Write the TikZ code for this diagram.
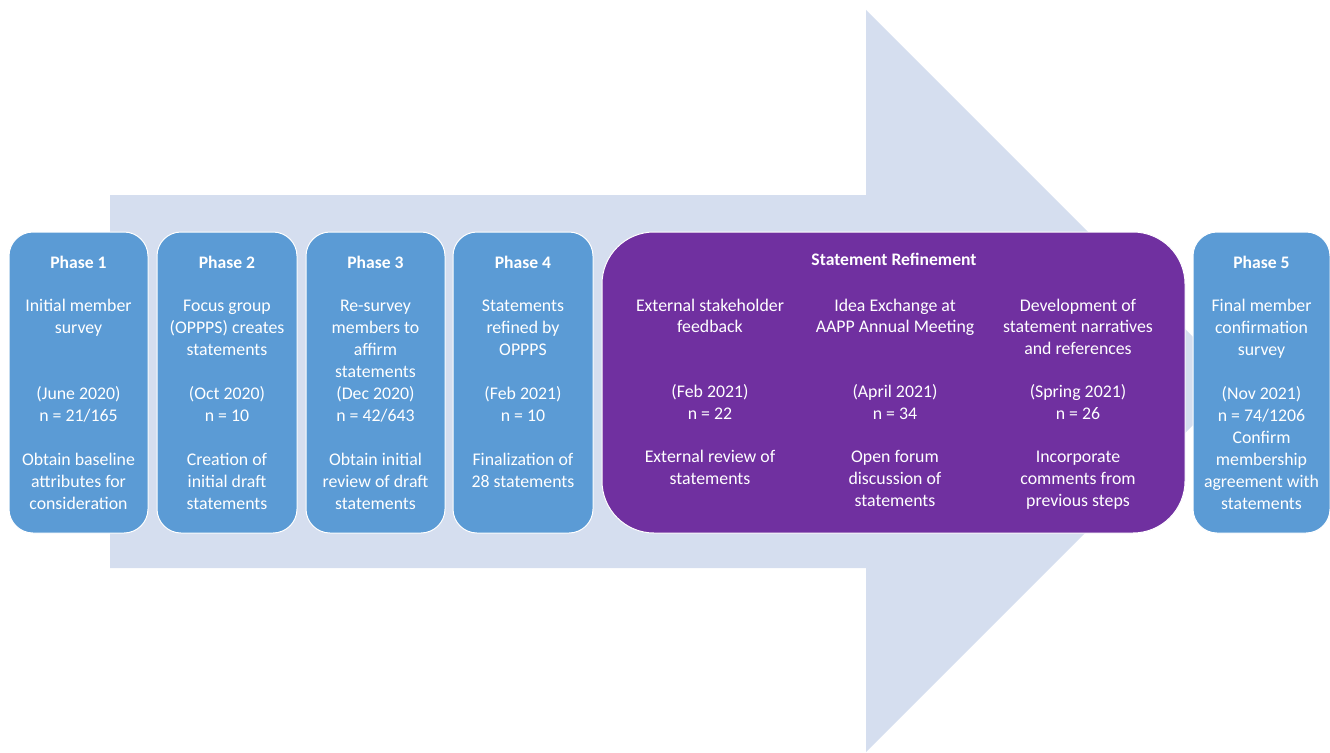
\documentclass[tikz,border=0pt]{standalone}
\usepackage{fontspec}
\setmainfont{Carlito}
\definecolor{arrowbg}{HTML}{D5DEEF}
\definecolor{phaseblue}{HTML}{5B9BD5}
\definecolor{refpurple}{HTML}{7030A0}
\tikzset{
  phasebox/.style={draw=white, line width=1pt, fill=phaseblue, rounded corners=24pt, minimum width=#1, minimum height=301pt, inner sep=0pt},
  purplebox/.style={draw=white, line width=1pt, fill=refpurple, rounded corners=52pt, minimum width=583pt, minimum height=301pt, inner sep=0pt},
  txt/.style={text=white, align=center, anchor=base, inner sep=0pt, font=\fontsize{17.8}{22}\selectfont},
  ptxt/.style={text=white, align=center, anchor=base, inner sep=0pt, font=\fontsize{17.8}{21.7}\selectfont},
  ttl/.style={text=white, anchor=base, inner sep=0pt, font=\fontsize{17.6}{22}\selectfont\bfseries},
}
\begin{document}
\begin{tikzpicture}[x=1pt,y=-1pt]
\useasboundingbox (0,0) rectangle (1330,752);
% big background arrow
\fill[arrowbg] (110,195) -- (866,195) -- (866,10) -- (1237,381) -- (866,752) -- (866,568) -- (110,568) -- cycle;
% boxes
\node[phasebox=139pt] (p1) at (78.5,382.5) {};
\node[phasebox=140pt] (p2) at (227,382.5) {};
\node[phasebox=139pt] (p3) at (375.5,382.5) {};
\node[phasebox=140pt] (p4) at (523,382.5) {};
\node[purplebox] (sr) at (893.5,382.5) {};
\node[phasebox=137pt] (p5) at (1261.5,382.5) {};
% titles
\node[ttl] (t1) at (78.5,268) {Phase 1};
\node[ttl] (t2) at (227,268) {Phase 2};
\node[ttl] (t3) at (375.5,268) {Phase 3};
\node[ttl] (t4) at (523,268) {Phase 4};
\node[ttl] (t5) at (1261.5,268) {Phase 5};
\node[ttl] (tsr) at (894,265) {Statement Refinement};
% phase texts (anchored at the baseline of the last line)
\node[txt] (b1) at (78.5,509) {Initial member\\survey\\[44pt](June 2020)\\n = 21/165\\[22pt]Obtain baseline\\attributes for\\consideration};
\node[txt] (b2) at (227,509) {Focus group\\(OPPPS) creates\\statements\\[22pt](Oct 2020)\\n = 10\\[22pt]Creation of\\initial draft\\statements};
\node[txt] (b3) at (375.5,509) {Re-survey\\members to\\affirm\\statements\\(Dec 2020)\\n = 42/643\\[22pt]Obtain initial\\review of draft\\statements};
\node[txt] (b4) at (523,487) {Statements\\refined by\\OPPPS\\[22pt](Feb 2021)\\n = 10\\[22pt]Finalization of\\28 statements};
\node[txt] (b5) at (1261.5,509) {Final member\\confirmation\\survey\\[22pt](Nov 2021)\\n = 74/1206\\Confirm\\membership\\agreement with\\statements};
% refinement columns
\node[ptxt] (c1) at (710,484.6) {External stakeholder\\feedback\\[43.4pt](Feb 2021)\\n = 22\\[21.7pt]External review of\\statements};
\node[ptxt] (c2) at (895,506.3) {Idea Exchange at\\AAPP Annual Meeting\\[43.4pt](April 2021)\\n = 34\\[21.7pt]Open forum\\discussion of\\statements};
\node[ptxt] (c3) at (1078,506.3) {Development of\\statement narratives\\and references\\[21.7pt](Spring 2021)\\n = 26\\[21.7pt]Incorporate\\comments from\\previous steps};
\end{tikzpicture}
\end{document}
